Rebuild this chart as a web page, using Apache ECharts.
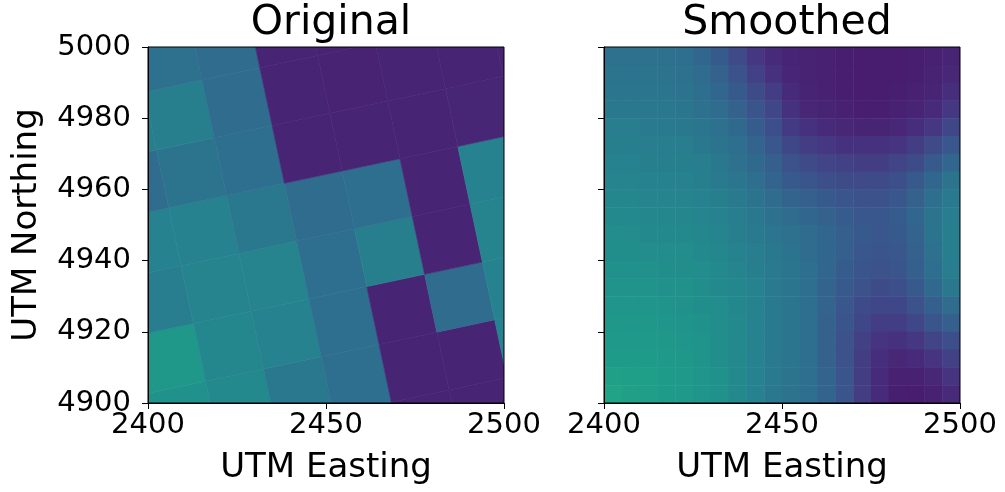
<!DOCTYPE html>
<html><head><meta charset="utf-8">
<script src="https://cdn.jsdelivr.net/npm/echarts@6/dist/echarts.min.js"></script>
<style>html,body{margin:0;padding:0;background:#fff}#c{width:1005px;height:492px}</style>
</head><body><div id="c"></div>
<script>
// ---------- data ----------
const panelTitles = ['Original', 'Smoothed'];
const xAxisName = 'UTM Easting';
const yAxisName = 'UTM Northing';
const xRange = [2400, 2500];
const yRange = [4900, 5000];
const xTickStep = 50;
const yTickStep = 20;

// Original: a rotated grid of constant-value blocks (value on the viridis 0..1 scale)
const blockAngleDeg = 12;      // grid rotation (counter-clockwise)
const blockSize = 16.6;        // block edge, in metres
const blockOriginU = -16.1;    // rotated-frame lower bound of column 0 (offset from 2400/4900)
const blockOriginV = -30.6;    // rotated-frame lower bound of row 0
// rows: j = 0 (south) .. 7 (north); columns: i = 0 (west) .. 8 (east)
const originalBlocks = [
  [0.10, 0.10, 0.10, 0.10, 0.10, 0.10, 0.10, 0.10, 0.10],
  [0.50, 0.50, 0.47, 0.40, 0.36, 0.10, 0.10, 0.44, 0.44],
  [0.53, 0.53, 0.46, 0.44, 0.36, 0.10, 0.35, 0.44, 0.44],
  [0.42, 0.42, 0.45, 0.45, 0.36, 0.43, 0.10, 0.45, 0.45],
  [0.44, 0.44, 0.44, 0.40, 0.35, 0.36, 0.10, 0.44, 0.44],
  [0.35, 0.35, 0.38, 0.36, 0.10, 0.10, 0.10, 0.105, 0.105],
  [0.43, 0.43, 0.43, 0.35, 0.10, 0.095, 0.10, 0.10, 0.10],
  [0.37, 0.37, 0.37, 0.35, 0.10, 0.095, 0.10, 0.10, 0.10]
];

// Smoothed: 20 x 20 cells of 5 m, rows listed north (top) to south (bottom), west to east
const smoothCell = 5;
const smoothedRows = [
  [0.37,0.37,0.37,0.37,0.36,0.33,0.28,0.22,0.16,0.12, 0.10,0.095,0.09,0.085,0.08,0.08,0.08,0.085,0.09,0.10],
  [0.38,0.38,0.38,0.38,0.37,0.35,0.31,0.25,0.19,0.14, 0.105,0.095,0.09,0.085,0.08,0.08,0.08,0.085,0.095,0.11],
  [0.39,0.39,0.39,0.39,0.38,0.36,0.33,0.28,0.23,0.18, 0.12,0.10,0.09,0.085,0.08,0.08,0.085,0.09,0.10,0.13],
  [0.40,0.40,0.40,0.40,0.39,0.37,0.35,0.31,0.26,0.21, 0.14,0.11,0.10,0.09,0.085,0.085,0.09,0.10,0.12,0.16],
  [0.42,0.42,0.41,0.41,0.40,0.39,0.37,0.34,0.29,0.24, 0.17,0.14,0.12,0.11,0.10,0.10,0.11,0.13,0.16,0.21],
  [0.43,0.43,0.42,0.42,0.42,0.40,0.38,0.36,0.32,0.27, 0.21,0.18,0.16,0.14,0.14,0.14,0.15,0.18,0.22,0.27],
  [0.44,0.44,0.43,0.43,0.43,0.42,0.40,0.37,0.34,0.30, 0.25,0.22,0.20,0.19,0.18,0.18,0.20,0.23,0.28,0.33],
  [0.45,0.45,0.44,0.44,0.44,0.43,0.41,0.39,0.36,0.32, 0.28,0.26,0.24,0.23,0.22,0.22,0.24,0.28,0.33,0.38],
  [0.46,0.46,0.45,0.45,0.45,0.44,0.43,0.41,0.38,0.35, 0.32,0.30,0.28,0.26,0.25,0.25,0.27,0.31,0.36,0.41],
  [0.47,0.47,0.46,0.46,0.46,0.45,0.44,0.42,0.40,0.37, 0.35,0.33,0.31,0.29,0.27,0.27,0.29,0.33,0.38,0.42],
  [0.48,0.48,0.47,0.47,0.47,0.46,0.45,0.43,0.41,0.39, 0.37,0.35,0.33,0.30,0.28,0.27,0.28,0.32,0.38,0.43],
  [0.49,0.49,0.48,0.48,0.48,0.47,0.46,0.44,0.42,0.40, 0.38,0.35,0.33,0.30,0.27,0.26,0.27,0.31,0.37,0.43],
  [0.50,0.50,0.50,0.49,0.49,0.48,0.47,0.45,0.43,0.41, 0.39,0.36,0.33,0.29,0.26,0.25,0.26,0.30,0.36,0.42],
  [0.51,0.51,0.51,0.50,0.50,0.49,0.47,0.46,0.44,0.41, 0.39,0.36,0.32,0.28,0.25,0.23,0.24,0.28,0.34,0.40],
  [0.52,0.52,0.52,0.51,0.50,0.49,0.48,0.46,0.44,0.41, 0.39,0.36,0.32,0.27,0.23,0.21,0.21,0.25,0.30,0.35],
  [0.53,0.53,0.53,0.52,0.51,0.50,0.48,0.47,0.44,0.41, 0.39,0.36,0.31,0.26,0.21,0.18,0.18,0.21,0.26,0.30],
  [0.54,0.54,0.54,0.53,0.52,0.51,0.49,0.47,0.44,0.41, 0.39,0.36,0.31,0.25,0.19,0.15,0.14,0.16,0.20,0.24],
  [0.55,0.55,0.55,0.54,0.53,0.51,0.49,0.47,0.44,0.41, 0.39,0.36,0.31,0.25,0.18,0.13,0.11,0.12,0.15,0.19],
  [0.57,0.56,0.56,0.55,0.54,0.52,0.50,0.47,0.44,0.41, 0.38,0.36,0.32,0.26,0.18,0.12,0.09,0.09,0.11,0.15],
  [0.58,0.57,0.56,0.55,0.54,0.52,0.50,0.47,0.44,0.40, 0.38,0.36,0.32,0.26,0.18,0.12,0.085,0.08,0.09,0.12]
];

// viridis colour stops (0, 0.05, ..., 1)
const viridis = ['#440154','#471365','#482475','#463480','#414487','#3b528b','#355f8d','#2f6c8e','#2a788e','#25848e',
  '#21918c','#1e9c89','#22a884','#2fb47c','#44bf70','#5ec962','#7ad151','#9bd93c','#bddf26','#dfe318','#fde725'];

// ---------- build series data ----------
const origData = [];
originalBlocks.forEach((row, j) => row.forEach((v, i) => origData.push([i, j, v])));
const smoothData = [];
const nRows = smoothedRows.length;
smoothedRows.forEach((row, r) => row.forEach((v, c) => smoothData.push([c, nRows - 1 - r, v])));

const FONT = 'DejaVu Sans';
const th = blockAngleDeg * Math.PI / 180, ct = Math.cos(th), st = Math.sin(th);

function renderBlock(params, api) {
  const i = api.value(0), j = api.value(1);
  const u0 = blockOriginU + i * blockSize, u1 = u0 + blockSize;
  const v0 = blockOriginV + j * blockSize, v1 = v0 + blockSize;
  const corners = [[u0, v0], [u1, v0], [u1, v1], [u0, v1]].map(([u, v]) =>
    api.coord([xRange[0] + u * ct - v * st, yRange[0] + u * st + v * ct]));
  return { type: 'polygon', shape: { points: corners },
    style: { fill: api.visual('color'), stroke: api.visual('color'), lineWidth: 0.6 } };
}
function renderCell(params, api) {
  const c = api.value(0), r = api.value(1);
  const p0 = api.coord([xRange[0] + c * smoothCell, yRange[0] + (r + 1) * smoothCell]);
  const p1 = api.coord([xRange[0] + (c + 1) * smoothCell, yRange[0] + r * smoothCell]);
  return { type: 'rect', shape: { x: p0[0], y: p0[1], width: p1[0] - p0[0] + 0.5, height: p1[1] - p0[1] + 0.5 },
    style: { fill: api.visual('color') } };
}

const grids = [
  { left: 148, top: 47, width: 356, height: 356, show: true, borderColor: '#000', borderWidth: 1, backgroundColor: 'transparent', z: 10 },
  { left: 604, top: 47, width: 356, height: 356, show: true, borderColor: '#000', borderWidth: 1, backgroundColor: 'transparent', z: 10 }
];
const plainNum = v => String(v);
function xAxis(g) {
  return { gridIndex: g, type: 'value', min: xRange[0], max: xRange[1], interval: xTickStep,
    name: xAxisName, nameLocation: 'middle', nameGap: 48,
    nameTextStyle: { fontSize: 34, color: '#000', fontFamily: FONT },
    axisLine: { show: true, onZero: false, lineStyle: { color: '#000', width: 1 } },
    axisTick: { show: true, length: 6, lineStyle: { color: '#000', width: 1 } },
    axisLabel: { fontSize: 29, color: '#000', fontFamily: FONT, margin: 8, formatter: plainNum },
    splitLine: { show: false }, z: 10 };
}
function yAxis(g, withLabels) {
  return { gridIndex: g, type: 'value', min: yRange[0], max: yRange[1], interval: yTickStep,
    name: withLabels ? yAxisName : '', nameLocation: 'middle', nameGap: 104, nameRotate: 90,
    nameTextStyle: { fontSize: 34, color: '#000', fontFamily: FONT },
    axisLine: { show: true, onZero: false, lineStyle: { color: '#000', width: 1 } },
    axisTick: { show: true, length: 6, lineStyle: { color: '#000', width: 1 } },
    axisLabel: { show: withLabels, fontSize: 29, color: '#000', fontFamily: FONT, margin: 17, formatter: plainNum },
    splitLine: { show: false }, z: 10 };
}

const option = {
  backgroundColor: '#fff',
  animation: false,
  title: panelTitles.map((t, k) => ({
    text: t, left: k === 0 ? 326 : 782, top: -2, textAlign: 'center',
    textStyle: { fontSize: 41, fontWeight: 'normal', color: '#000', fontFamily: FONT }
  })),
  grid: grids,
  xAxis: [xAxis(0), xAxis(1)],
  yAxis: [yAxis(0, true), yAxis(1, false)],
  visualMap: { show: false, type: 'continuous', min: 0, max: 1, dimension: 2, seriesIndex: [0, 1],
    inRange: { color: viridis } },
  series: [
    { type: 'custom', xAxisIndex: 0, yAxisIndex: 0, renderItem: renderBlock, data: origData, clip: true,
      encode: { x: -1, y: -1 } },
    { type: 'custom', xAxisIndex: 1, yAxisIndex: 1, renderItem: renderCell, data: smoothData, clip: true,
      encode: { x: -1, y: -1 } }
  ]
};
const chart = echarts.init(document.getElementById('c'), null, { renderer: 'canvas' });
chart.setOption(option);
</script></body></html>
